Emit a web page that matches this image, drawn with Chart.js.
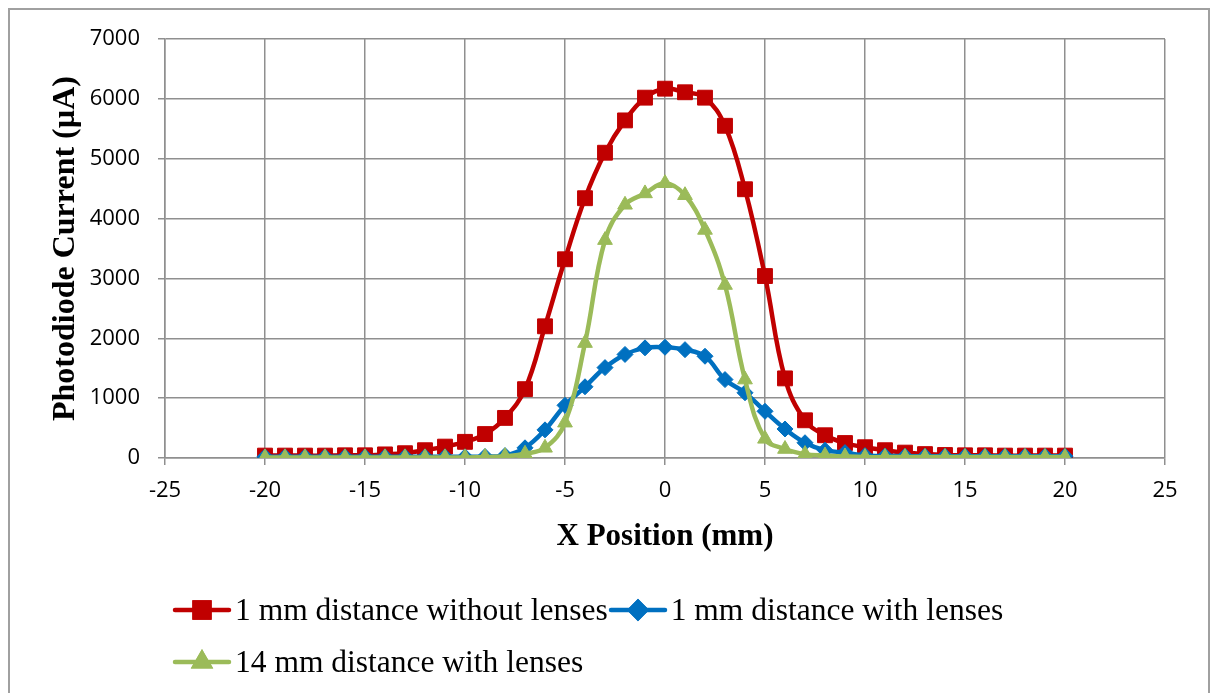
<!DOCTYPE html>
<html>
<head>
<meta charset="utf-8">
<script src="https://cdn.jsdelivr.net/npm/chart.js@4/dist/chart.umd.min.js"></script>
<style>
  html, body { margin: 0; padding: 0; background: #fff; }
  #frame { position: absolute; left: 8px; top: 8px; width: 1202px; height: 760px; border: 2px solid #a0a0a0; box-sizing: border-box; }
  #wrap { position: absolute; left: 0; top: 0; width: 1213px; height: 693px; }
  #legend { position: absolute; left: 172px; top: 584px; font-family: 'Liberation Serif', 'Times New Roman', serif; font-size: 31.5px; color: #000; }
  .row { height: 52px; display: flex; align-items: center; white-space: nowrap; }
  .item { display: inline-flex; align-items: center; }
  .item canvas { margin-right: 3px; }
</style>
</head>
<body>
<div id="frame"></div>
<div id="wrap"><canvas id="chart" width="1213" height="693"></canvas></div>
<div id="legend"></div>
<script>
// x positions in mm
const xPositions = [-20, -19, -18, -17, -16, -15, -14, -13, -12, -11, -10, -9, -8, -7, -6, -5, -4, -3, -2, -1,
  0, 1, 2, 3, 4, 5, 6, 7, 8, 9, 10, 11, 12, 13, 14, 15, 16, 17, 18, 19, 20]

// photodiode current (uA)
const noLens1mm = [40, 40, 40, 40, 45, 45, 60, 80, 130, 190, 270, 400, 670, 1150, 2200, 3320, 4340, 5100, 5640, 6020,
  6170, 6110, 6020, 5550, 4490, 3040, 1330, 630, 380, 250, 180, 130, 90, 65, 50, 45, 45, 40, 40, 40, 40]
const lens1mm = [20, 20, 20, 20, 20, 20, 20, 20, 20, 20, 20, 25, 40, 170, 470, 880, 1190, 1510, 1730, 1840,
  1850, 1810, 1700, 1310, 1090, 780, 485, 255, 130, 90, 40, 35, 30, 30, 30, 30, 30, 30, 30, 30, 30]
const lens14mm = [10, 10, 10, 10, 10, 10, 10, 10, 10, 10, 10, 15, 30, 70, 170, 590, 1920, 3640, 4230, 4420,
  4590, 4390, 3810, 2890, 1310, 320, 150, 65, 40, 25, 15, 15, 15, 15, 15, 15, 15, 15, 15, 15, 15]

const seriesNames = ['1 mm distance without lenses', '1 mm distance with lenses', '14 mm distance with lenses']
const seriesColors = ['#c00000', '#0070c0', '#9bbb59']
const seriesMarkers = ['rect', 'rectRot', 'triangle']
const markerSizes = [10.5, 8, 8.5]
const legendRows = [[0, 1], [2]]

const gridColor = '#8f8f8f'

function toPoints (values) {
  return xPositions.map((x, i) => ({ x: x, y: values[i] }))
}

const allValues = [noLens1mm, lens1mm, lens14mm]
const datasets = allValues.map((values, i) => ({
  label: seriesNames[i],
  data: toPoints(values),
  borderColor: seriesColors[i],
  backgroundColor: seriesColors[i],
  borderWidth: 4.5,
  pointStyle: seriesMarkers[i],
  pointRadius: markerSizes[i],
  pointBorderWidth: 1,
  tension: 0.4,
  order: 3 - i  // later series drawn on top, like the original
}))

const plainNumber = v => String(v)

const chart = new Chart(document.getElementById('chart'), {
  type: 'line',
  data: { datasets: datasets },
  options: {
    responsive: false,
    animation: false,
    devicePixelRatio: 1,
    layout: { padding: { left: 0, top: 39, right: 48, bottom: 125 } },
    plugins: { legend: { display: false }, tooltip: { enabled: false } },
    scales: {
      x: {
        type: 'linear',
        min: -25,
        max: 25,
        ticks: { stepSize: 5, color: '#000', padding: 13, font: { family: 'Open Sans', size: 22 }, callback: plainNumber },
        grid: { color: gridColor, lineWidth: 1.5, tickLength: 7, tickColor: gridColor },
        border: { color: gridColor, width: 1.5 },
        title: {
          display: true,
          text: 'X Position (mm)',
          color: '#000',
          font: { family: 'Liberation Serif', size: 31, weight: 'bold' },
          padding: { top: 0, bottom: 12 }
        },
        afterFit: scale => { scale.height = 110 }
      },
      y: {
        min: 0,
        max: 7000,
        ticks: { stepSize: 1000, color: '#000', padding: 18, font: { family: 'Open Sans', size: 22 }, callback: plainNumber },
        grid: { color: gridColor, lineWidth: 1.5, tickLength: 7, tickColor: gridColor },
        border: { color: gridColor, width: 1.5 },
        title: {
          display: true,
          text: 'Photodiode Current (µA)',
          color: '#000',
          font: { family: 'Liberation Serif', size: 32, weight: 'bold' },
          padding: { top: 47, bottom: 0 }
        },
        afterFit: scale => { scale.width = 165 }
      }
    }
  }
})

// legend built from the datasets: short line with the marker on it
const legendEl = document.getElementById('legend')
for (const row of legendRows) {
  const rowEl = document.createElement('div')
  rowEl.className = 'row'
  for (const i of row) {
    const ds = chart.data.datasets[i]
    const item = document.createElement('span')
    item.className = 'item'
    const icon = document.createElement('canvas')
    icon.width = 60
    icon.height = 30
    const ctx = icon.getContext('2d')
    ctx.strokeStyle = ds.borderColor
    ctx.lineWidth = 4.5
    ctx.lineCap = 'round'
    ctx.beginPath()
    ctx.moveTo(3, 15)
    ctx.lineTo(57, 15)
    ctx.stroke()
    ctx.fillStyle = ds.backgroundColor
    Chart.helpers.drawPoint(ctx, { pointStyle: ds.pointStyle, radius: ds.pointRadius, borderWidth: 1, rotation: 0 }, 30, 15)
    ctx.fill()
    ctx.stroke()
    item.appendChild(icon)
    const label = document.createElement('span')
    label.textContent = ds.label
    item.appendChild(label)
    rowEl.appendChild(item)
  }
  legendEl.appendChild(rowEl)
}
</script>
</body>
</html>
